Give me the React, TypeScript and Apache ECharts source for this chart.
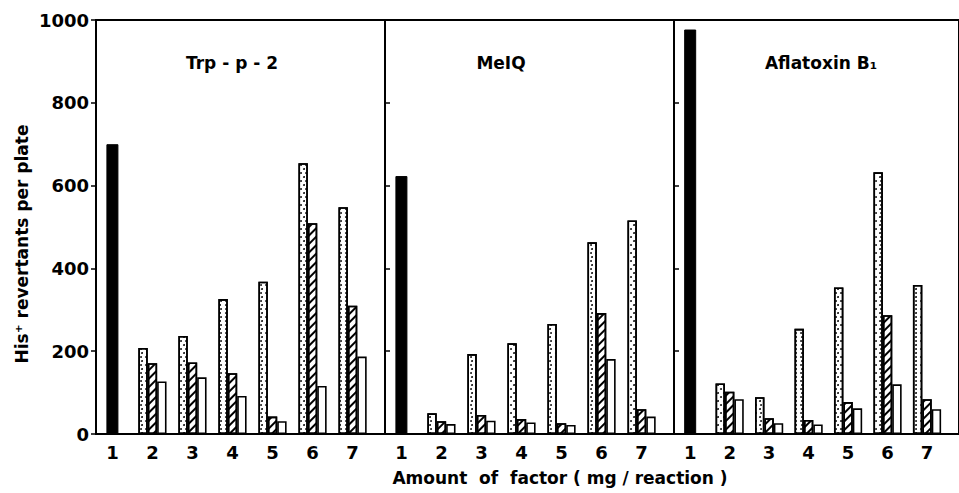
import React, { useEffect, useRef } from "react";
import * as echarts from "echarts";

// x categories: amount of factor (index 1..7)
const factors = [1, 2, 3, 4, 5, 6, 7];
const doseFactors = [2, 3, 4, 5, 6, 7];
const panelTitles = ["Trp - p - 2", "MeIQ", "Aflatoxin B\u2081"];

// factor 1: black (solid) bar per panel
const controlValues = [700, 623, 977];

// factors 2..7 per panel
const dottedValues = [
  [208, 237, 326, 368, 654, 548],
  [50, 193, 219, 266, 463, 516],
  [122, 89, 254, 354, 632, 360],
];
const hatchedValues = [
  [171, 173, 147, 42, 509, 310],
  [31, 46, 36, 26, 292, 60],
  [102, 38, 34, 77, 287, 84],
];
const openValues = [
  [127, 137, 92, 31, 116, 187],
  [24, 32, 28, 22, 181, 42],
  [84, 26, 23, 62, 120, 60],
];

const FONT = "DejaVu Sans";

export default function App() {
  const ref = useRef<HTMLDivElement>(null);

  useEffect(() => {
    if (!ref.current) return;
    const chart = echarts.init(ref.current, null, { renderer: "svg" });

    const gridLefts = [96, 385, 674];
    const gridWidth = 289;
    const xMin = 0.59;
    const xMax = 7.81;

    const grids: any[] = [];
    const xAxes: any[] = [];
    const yAxes: any[] = [];
    const series: any[] = [];
    const graphics: any[] = [];

    const dottedDecal = {
      symbol: "circle",
      symbolSize: 0.9,
      symbolKeepAspect: true,
      color: "#000",
      backgroundColor: "#fff",
      dashArrayX: [
        [2, 2.6],
        [0, 2.3, 2, 0.3],
      ],
      dashArrayY: [2, 1.8],
      rotation: 0,
    };
    const hatchedDecal = {
      symbol: "rect",
      symbolSize: 1,
      color: "#000",
      backgroundColor: "#fff",
      dashArrayX: [1, 0],
      dashArrayY: [1.1, 3.4],
      rotation: -Math.PI / 4,
    };

    for (let p = 0; p < 3; p++) {
      grids.push({
        left: gridLefts[p],
        top: 20,
        width: gridWidth,
        height: 414,
        show: true,
        borderColor: "#000",
        borderWidth: 2,
        backgroundColor: "transparent",
      });
      xAxes.push({
        type: "value",
        gridIndex: p,
        min: xMin,
        max: xMax,
        axisLine: { show: true, lineStyle: { color: "#000", width: 2 } },
        axisTick: { show: false },
        splitLine: { show: false },
        axisLabel: {
          customValues: factors,
          color: "#000",
          fontFamily: FONT,
          fontWeight: "bold",
          fontSize: 18,
          margin: 9,
        },
      });
      xAxes.push({
        type: "value",
        gridIndex: p,
        min: xMin,
        max: xMax,
        show: false,
      });
      yAxes.push({
        type: "value",
        gridIndex: p,
        min: 0,
        max: 1000,
        interval: 200,
        axisLine: { show: true, lineStyle: { color: "#000", width: 2 } },
        axisTick: {
          show: true,
          inside: p !== 0,
          length: 5,
          lineStyle: { color: "#000", width: 1.5 },
        },
        splitLine: { show: false },
        axisLabel: {
          show: p === 0,
          formatter: (v: number) => String(v),
          color: "#000",
          fontFamily: FONT,
          fontWeight: "bold",
          fontSize: 18,
          margin: 7,
        },
      });

      const common = {
        type: "bar",
        xAxisIndex: p * 2,
        yAxisIndex: p,
        barWidth: 9.4,
        barGap: "0%",
        silent: true,
      };
      series.push({
        ...common,
        name: "dotted",
        data: doseFactors.map((f, i) => [f, dottedValues[p][i]]),
        itemStyle: { color: "#fff", borderColor: "#000", borderWidth: 1.6, decal: dottedDecal },
      });
      series.push({
        ...common,
        name: "hatched",
        data: doseFactors.map((f, i) => [f, hatchedValues[p][i]]),
        itemStyle: { color: "#fff", borderColor: "#000", borderWidth: 1.6, decal: hatchedDecal },
      });
      series.push({
        ...common,
        name: "open",
        data: doseFactors.map((f, i) => [f, openValues[p][i]]),
        itemStyle: { color: "#fff", borderColor: "#000", borderWidth: 1.6 },
      });
      series.push({
        type: "bar",
        name: "control",
        xAxisIndex: p * 2 + 1,
        yAxisIndex: p,
        barWidth: 12,
        silent: true,
        data: [[factors[0], controlValues[p]]],
        itemStyle: { color: "#000", borderColor: "#000", borderWidth: 1 },
      });
    }

    const titleCenters = [232, 501, 821];
    panelTitles.forEach((t, i) => {
      graphics.push({
        type: "text",
        x: titleCenters[i],
        y: 63,
        style: {
          text: t,
          fill: "#000",
          font: `bold 17px "${FONT}"`,
          textAlign: "center",
          textVerticalAlign: "middle",
        },
      });
    });
    graphics.push({
      type: "text",
      x: 560,
      y: 478,
      style: {
        text: "Amount  of  factor ( mg / reaction )",
        fill: "#000",
        font: `bold 17px "${FONT}"`,
        textAlign: "center",
        textVerticalAlign: "middle",
      },
    });
    graphics.push({
      type: "text",
      x: 22,
      y: 244,
      rotation: Math.PI / 2,
      style: {
        text: "His\u207A revertants per plate",
        fill: "#000",
        font: `bold 17px "${FONT}"`,
        textAlign: "center",
        textVerticalAlign: "middle",
      },
    });

    chart.setOption({
      animation: false,
      backgroundColor: "#fff",
      grid: grids,
      xAxis: xAxes,
      yAxis: yAxes,
      series,
      graphic: graphics,
    });

    return () => chart.dispose();
  }, []);

  return (
    <div
      ref={ref}
      style={{ position: "fixed", left: 0, top: 0, width: 959, height: 493 }}
    />
  );
}
